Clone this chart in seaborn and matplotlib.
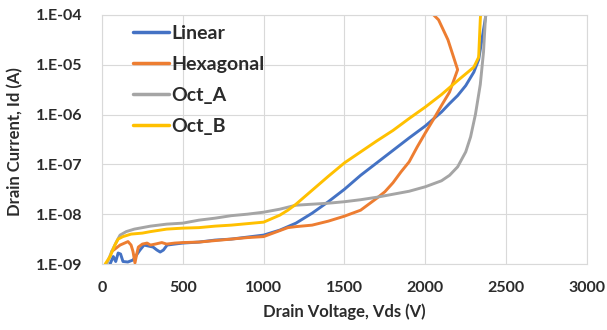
import numpy as np
import pandas as pd
import matplotlib
matplotlib.use("Agg")
import matplotlib.pyplot as plt
import seaborn as sns
from matplotlib.ticker import FixedLocator, FixedFormatter

# ---- data (log10 of drain current) ----
linear_v = [50, 70, 85, 100, 115, 130, 160, 192, 235, 260, 316, 340, 360, 380, 403,
            450, 500, 600, 700, 800, 900, 1000, 1100, 1200, 1300, 1400, 1500,
            1600, 1700, 1800, 1900, 2000, 2100, 2150, 2200, 2250, 2300, 2330,
            2350, 2365, 2375]
linear_log = [-9.0, -8.85, -8.95, -8.78, -8.8, -8.95, -8.96, -8.92, -8.72, -8.62,
              -8.66, -8.72, -8.76, -8.72, -8.62, -8.6, -8.58, -8.56, -8.52, -8.5,
              -8.46, -8.42, -8.32, -8.18, -7.98, -7.75, -7.5, -7.22, -6.97, -6.72,
              -6.47, -6.23, -5.95, -5.78, -5.62, -5.42, -5.15, -4.9, -4.5, -4.2, -4.0]

hex_v = [60, 80, 100, 112, 140, 161, 180, 192, 204, 215, 225, 250, 279, 300, 330,
         370, 400, 450, 500, 600, 700, 800, 900, 1000, 1100, 1150, 1200, 1300,
         1400, 1500, 1600, 1700, 1750, 1800, 1850, 1900, 1950, 2000, 2050, 2100,
         2150, 2200, 2140, 2082, 2051]
hex_log = [-8.75, -8.7, -8.65, -8.62, -8.58, -8.55, -8.62, -8.75, -8.98, -8.8,
           -8.66, -8.6, -8.58, -8.62, -8.6, -8.57, -8.6, -8.58, -8.57, -8.56,
           -8.53, -8.5, -8.47, -8.45, -8.33, -8.27, -8.25, -8.22, -8.14, -8.04,
           -7.92, -7.68, -7.55, -7.37, -7.15, -6.95, -6.65, -6.37, -6.1, -5.82,
           -5.55, -5.1, -4.5, -4.1, -4.0]

octa_v = [30, 60, 90, 112, 150, 200, 300, 400, 500, 600, 700, 800, 900, 1000,
          1100, 1200, 1300, 1400, 1500, 1600, 1700, 1800, 1900, 2000, 2100, 2150,
          2200, 2250, 2280, 2310, 2340, 2360, 2373]
octa_log = [-9.0, -8.75, -8.55, -8.42, -8.35, -8.3, -8.24, -8.2, -8.18, -8.12,
            -8.08, -8.03, -8.0, -7.96, -7.9, -7.82, -7.8, -7.78, -7.75, -7.71,
            -7.66, -7.6, -7.54, -7.45, -7.33, -7.22, -7.05, -6.75, -6.45, -6.0,
            -5.4, -4.75, -4.0]

octb_v = [20, 50, 80, 100, 130, 180, 250, 300, 400, 500, 600, 700, 800, 900, 1000,
          1100, 1150, 1200, 1300, 1400, 1500, 1600, 1700, 1800, 1900, 2000, 2100,
          2200, 2300, 2330, 2340, 2342]
octb_log = [-9.0, -8.85, -8.62, -8.5, -8.45, -8.4, -8.38, -8.35, -8.3, -8.28,
            -8.27, -8.24, -8.22, -8.19, -8.16, -8.02, -7.92, -7.8, -7.52, -7.24,
            -6.97, -6.75, -6.53, -6.32, -6.08, -5.85, -5.6, -5.32, -5.05, -4.85,
            -4.1, -4.0]

series_names = ["Linear", "Hexagonal", "Oct_A", "Oct_B"]
series_colors = ["#4472C4", "#ED7D31", "#A5A5A5", "#FFC000"]

x_ticks = [0, 500, 1000, 1500, 2000, 2500, 3000]
y_ticks = [1e-9, 1e-8, 1e-7, 1e-6, 1e-5, 1e-4]
y_tick_labels = ["1.E-09", "1.E-08", "1.E-07", "1.E-06", "1.E-05", "1.E-04"]

# ---- build long table ----
frames = []
for name, v, lg in zip(series_names,
                       [linear_v, hex_v, octa_v, octb_v],
                       [linear_log, hex_log, octa_log, octb_log]):
    frames.append(pd.DataFrame({"Vds": v, "Id": 10.0 ** np.array(lg),
                                "series": name}))
df = pd.concat(frames, ignore_index=True)

sns.set_style("white")
plt.rcParams["font.family"] = ["Lato", "DejaVu Sans"]
plt.rcParams["font.weight"] = "bold"

TXT = "#2b2b2b"

fig = plt.figure(figsize=(6.07, 3.30), dpi=100)
ax = fig.add_axes([0.168, 0.2, 0.799, 0.755])

sns.lineplot(data=df, x="Vds", y="Id", hue="series", hue_order=series_names,
             palette=series_colors, sort=False, estimator=None, units="series",
             linewidth=2.1, ax=ax)

ax.set_yscale("log")
ax.set_xlim(0, 3000)
ax.set_ylim(1e-9, 1e-4)
ax.xaxis.set_major_locator(FixedLocator(x_ticks))
ax.yaxis.set_major_locator(FixedLocator(y_ticks))
ax.yaxis.set_major_formatter(FixedFormatter(y_tick_labels))
ax.yaxis.set_minor_locator(FixedLocator([]))
ax.set_xticklabels([str(t) for t in x_ticks])

ax.grid(True, color="#d9d9d9", linewidth=0.8)
ax.set_axisbelow(True)
for s in ax.spines.values():
    s.set_color("#d9d9d9")
    s.set_linewidth(0.8)

ax.tick_params(axis="both", length=0, labelsize=11.5, colors=TXT)
ax.tick_params(axis="y", pad=14)
ax.tick_params(axis="x", pad=12)
for lab in ax.get_xticklabels() + ax.get_yticklabels():
    lab.set_fontweight("bold")

ax.set_xlabel("Drain Voltage, Vds (V)", fontsize=12, fontweight="bold",
              color=TXT)
ax.set_ylabel("Drain Current, Id (A)", fontsize=12, fontweight="bold",
              color=TXT)
ax.xaxis.set_label_coords(0.5, -0.16)
ax.yaxis.set_label_coords(-0.163, 0.49)

leg = ax.legend(loc="upper left", bbox_to_anchor=(0.055, 0.975), frameon=False,
                fontsize=14, handlelength=1.9, handletextpad=0.1,
                labelspacing=0.72, borderaxespad=0.0, borderpad=0.2)
for t in leg.get_texts():
    t.set_fontweight("bold")
    t.set_color(TXT)
for h in leg.get_lines():
    h.set_linewidth(2.5)

fig.savefig("out.png", dpi=100)
